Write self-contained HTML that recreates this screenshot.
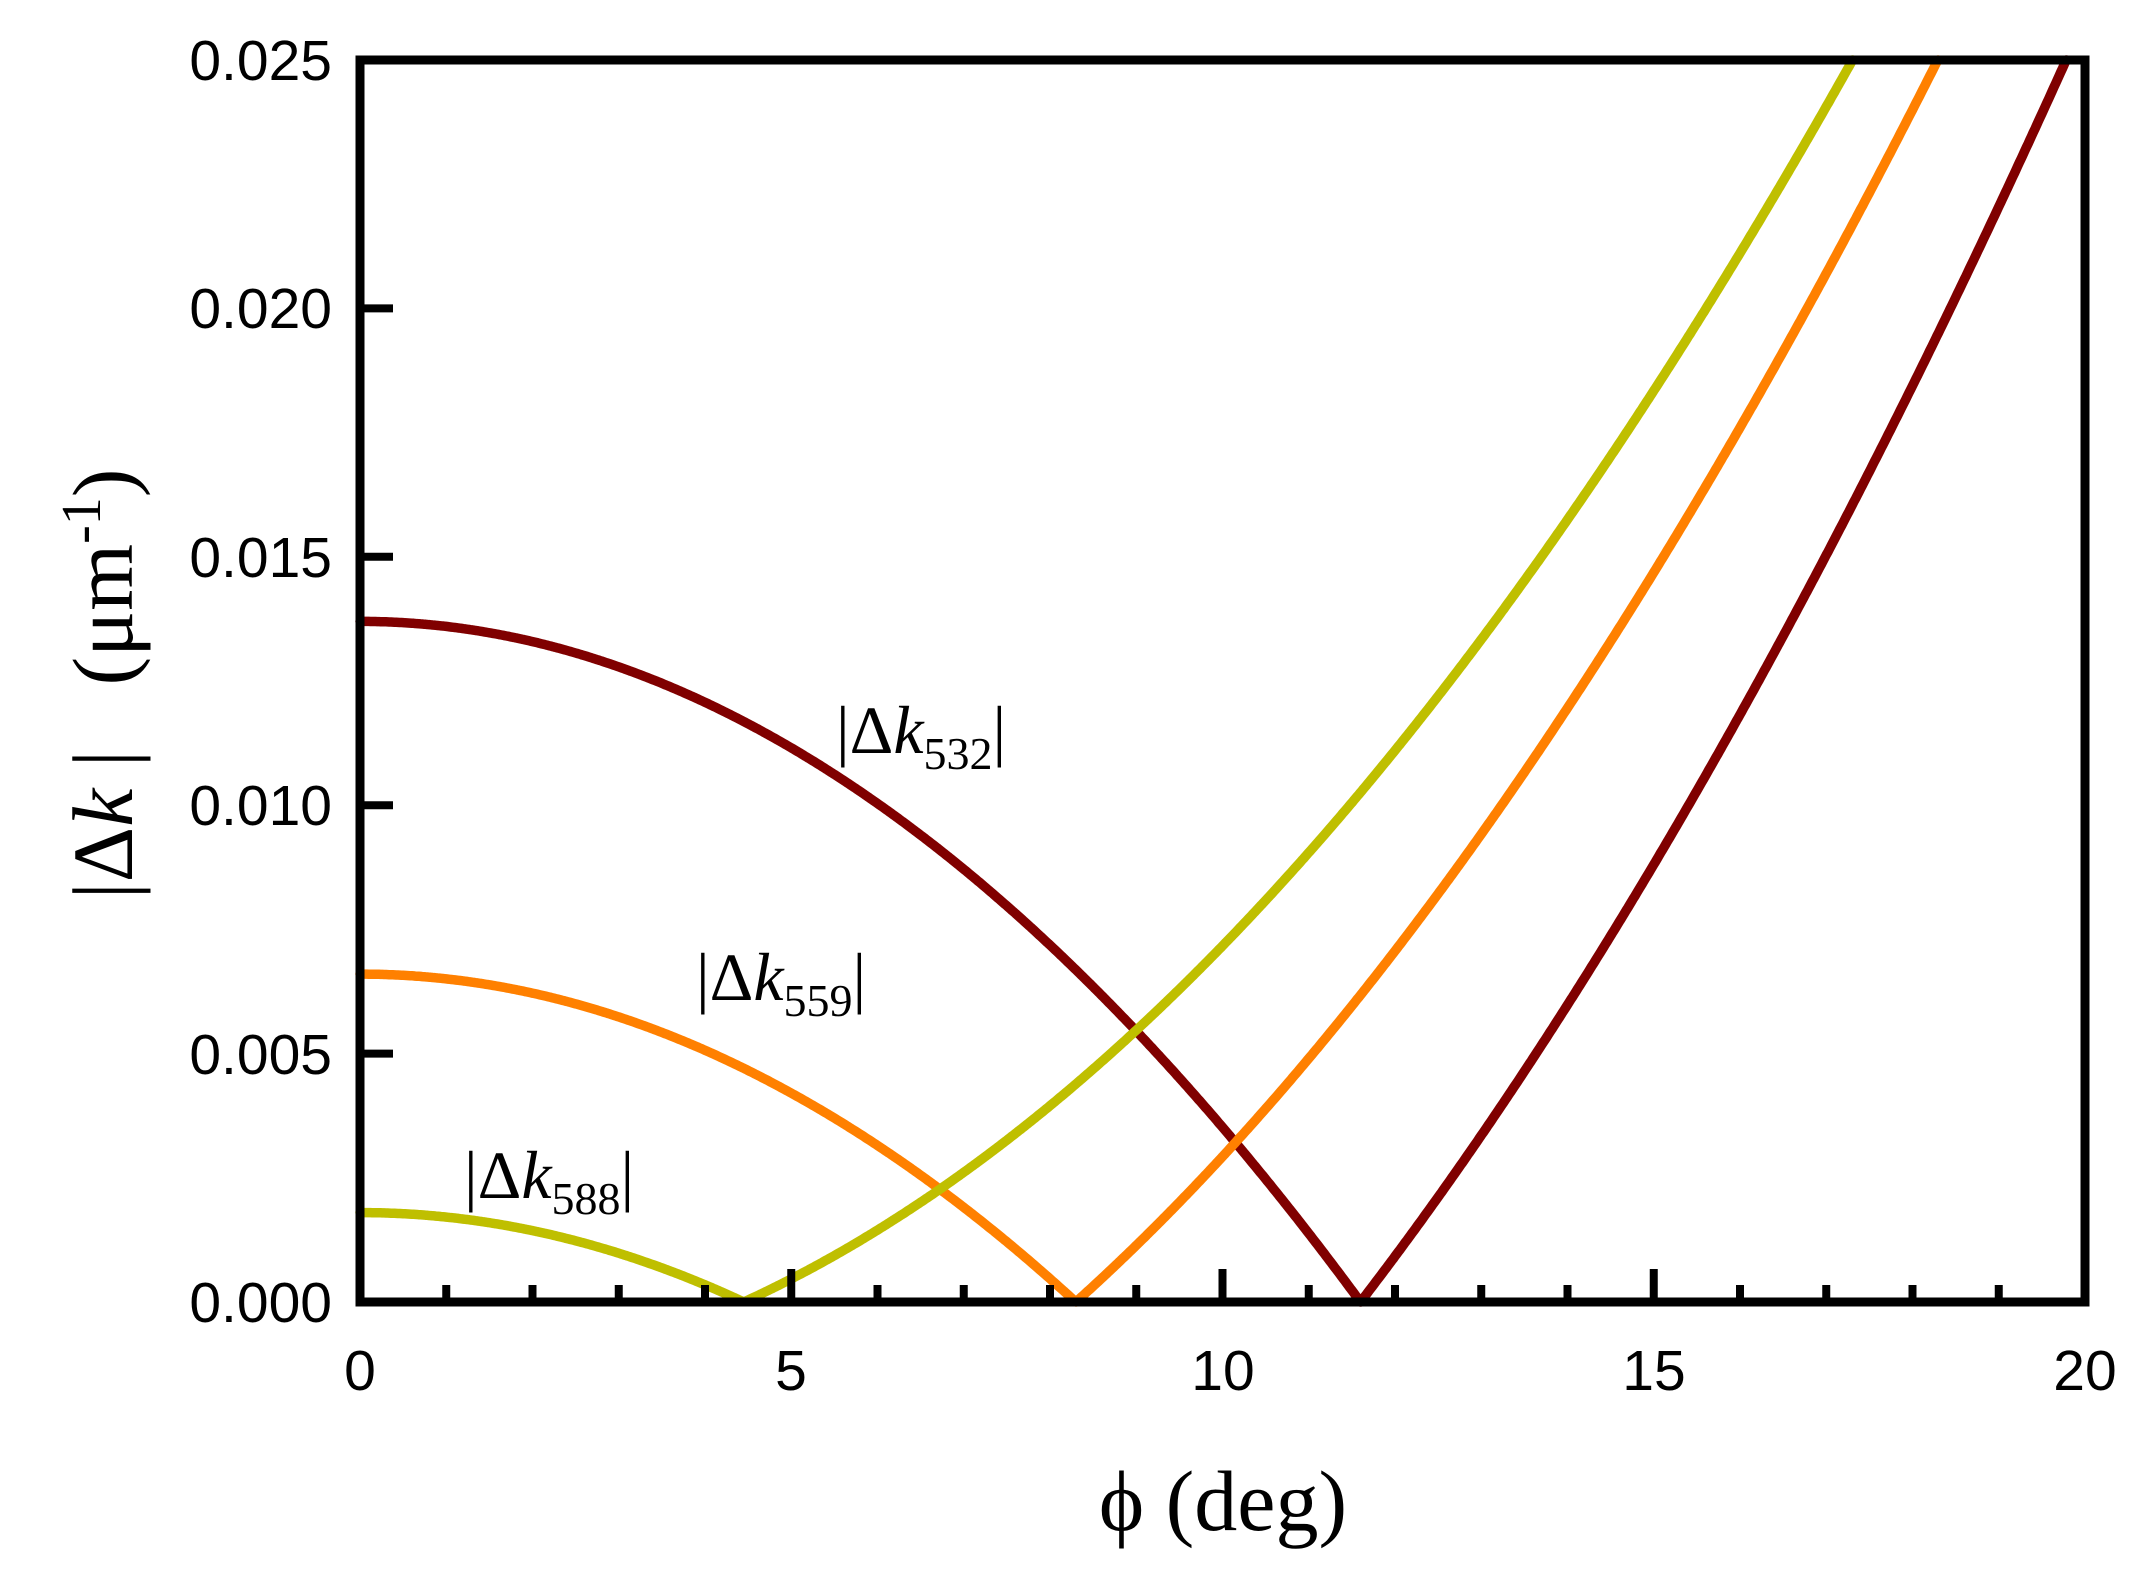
<!DOCTYPE html>
<html><head><meta charset="utf-8"><style>
html,body{margin:0;padding:0;background:#fff}
svg{display:block}
.t{font-family:"Liberation Sans",sans-serif;font-size:57px;fill:#000}
.s{font-family:"Liberation Serif",serif;fill:#000}
</style></head><body>
<svg id="c" width="2147" height="1584" viewBox="0 0 2147 1584" xmlns="http://www.w3.org/2000/svg">
<g id="curves" fill="none" stroke-width="9.5" stroke-linejoin="round" stroke-linecap="round"></g>
<rect x="360" y="60" width="1725" height="1242" fill="none" stroke="#000" stroke-width="9"/>
<g id="ticks" stroke="#000" stroke-width="8"></g>
<g class="t" text-anchor="end">
<text x="332" y="1322">0.000</text>
<text x="332" y="1074">0.005</text>
<text x="332" y="825">0.010</text>
<text x="332" y="577">0.015</text>
<text x="332" y="328">0.020</text>
<text x="332" y="80">0.025</text>
</g>
<g class="t" text-anchor="middle">
<text x="360" y="1390">0</text>
<text x="791" y="1390">5</text>
<text x="1223" y="1390">10</text>
<text x="1654" y="1390">15</text>
<text x="2085" y="1390">20</text>
</g>
<text class="s" x="1223" y="1530" font-size="86" text-anchor="middle">ϕ (deg)</text>
<text class="s" transform="translate(132,684) rotate(-90)" font-size="86" text-anchor="middle" xml:space="preserve">|Δ<tspan font-style="italic">k</tspan> |   (μm<tspan font-size="56" dy="-32">-1</tspan><tspan dy="32">)</tspan></text>
<g class="s" font-size="68">
<text x="836" y="753">|Δ<tspan font-style="italic">k</tspan><tspan font-size="46" dy="16">532</tspan><tspan dy="-16">|</tspan></text>
<text x="696" y="1000">|Δ<tspan font-style="italic">k</tspan><tspan font-size="46" dy="16">559</tspan><tspan dy="-16">|</tspan></text>
<text x="464" y="1198">|Δ<tspan font-style="italic">k</tspan><tspan font-size="46" dy="16">588</tspan><tspan dy="-16">|</tspan></text>
</g>
</svg>
<script>
var X=function(d){return 360+d*86.25},Y=function(v){return 1302-v/0.025*1242};
var g=document.getElementById('curves'),ns="http://www.w3.org/2000/svg";
[[0.0137,0.0131,11.6,'#800000'],[0.0066,0.00648,8.3,'#ff8000'],[0.0018,0.00177,4.45,'#bfbf00']].forEach(function(c){
 var pts=[];for(var d=0;d<=20;d+=0.02){var r=1-Math.pow(d/c[2],2);var v=r>0?c[0]*r:-c[1]*r;if(v>0.025){var d0=c[2]*Math.sqrt(1+0.025/c[1]);pts.push(X(d0).toFixed(1)+','+Y(0.025).toFixed(1));break;}pts.push(X(d).toFixed(1)+','+Y(v).toFixed(1));}
 var p=document.createElementNS(ns,'polyline');p.setAttribute('points',pts.join(' '));p.setAttribute('stroke',c[3]);g.appendChild(p);});
var t=document.getElementById('ticks'),h='';
for(var i=1;i<20;i++){var L=(i%5==0)?33:17;h+='<line x1="'+X(i)+'" y1="1302" x2="'+X(i)+'" y2="'+(1302-L)+'"/>';}
for(var j=1;j<5;j++){var y=Y(j*0.005);h+='<line x1="360" y1="'+y+'" x2="393" y2="'+y+'"/>';}
t.innerHTML=h;
</script>
</body></html>
